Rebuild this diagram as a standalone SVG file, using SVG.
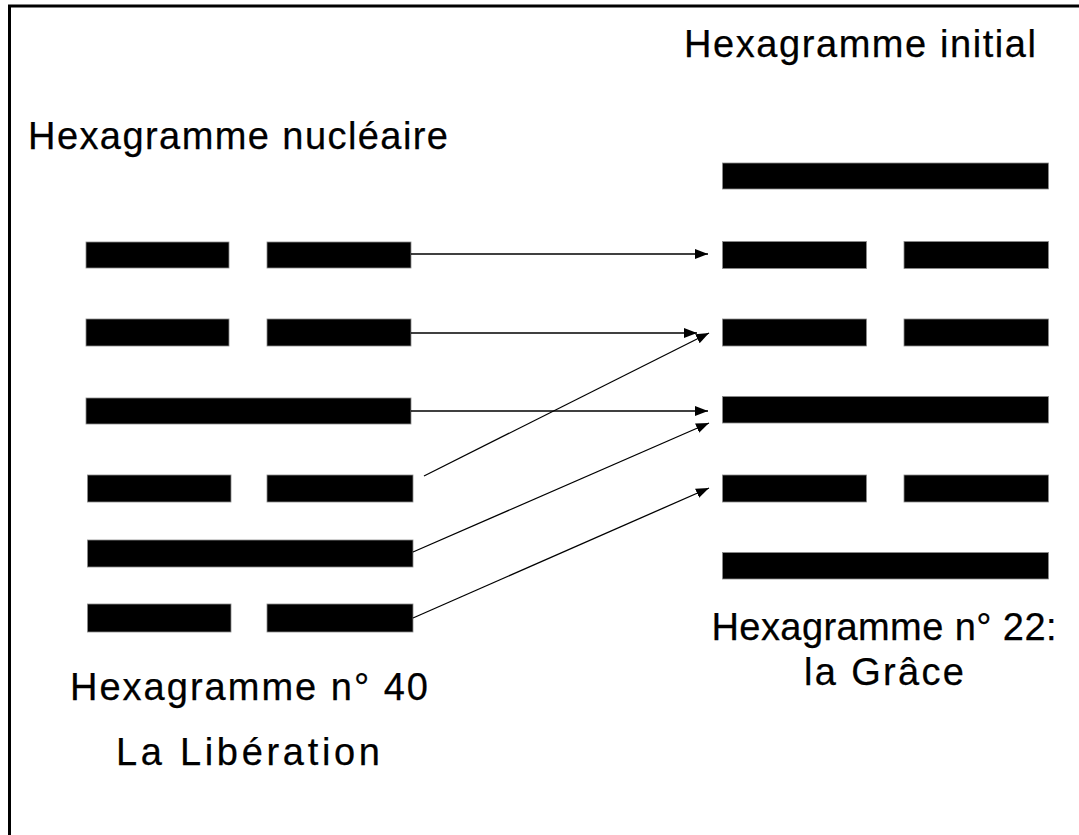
<svg xmlns="http://www.w3.org/2000/svg" width="1079" height="835" viewBox="0 0 1079 835">
<style>
.bar{fill:#000;stroke:#8a8a8a;stroke-width:0.8}
.lbl{font-family:"Liberation Sans",Arial,sans-serif;font-size:38px;fill:#000;stroke:#000;stroke-width:0.25}
.con{stroke:#000;stroke-width:1.3;fill:none}
</style>
<defs>
<marker id="ah" markerUnits="userSpaceOnUse" markerWidth="14" markerHeight="11" refX="13" refY="5" orient="auto">
<path d="M0,0 L13,5 L0,10 z" fill="#000"/>
</marker>
</defs>
<rect x="0" y="0" width="1079" height="835" fill="#fff"/>
<g id="frame">
<line x1="8" y1="6" x2="1079" y2="6" stroke="#000" stroke-width="3"/>
<line x1="9.5" y1="5" x2="9.5" y2="835" stroke="#000" stroke-width="3"/>
</g>
<g id="labels">
<text id="t-initial" class="lbl" x="684" y="57" textLength="352" lengthAdjust="spacing">Hexagramme initial</text>
<text id="t-nucleaire" class="lbl" x="28" y="149" textLength="420" lengthAdjust="spacing">Hexagramme nucléaire</text>
<text id="t-22" class="lbl" x="884" y="640" text-anchor="middle" textLength="345" lengthAdjust="spacing">Hexagramme n° 22:</text>
<text id="t-grace" class="lbl" x="884" y="685" text-anchor="middle" textLength="160" lengthAdjust="spacing">la Grâce</text>
<text id="t-40" class="lbl" x="249" y="700" text-anchor="middle" textLength="358" lengthAdjust="spacing">Hexagramme n° 40</text>
<text id="t-liberation" class="lbl" x="248" y="765" text-anchor="middle" textLength="264" lengthAdjust="spacing">La Libération</text>
</g>
<g id="hex-nucleaire">
<g id="n1"><rect class="bar" x="86" y="242" width="143" height="26"/><rect class="bar" x="267" y="242" width="144" height="26"/></g>
<g id="n2"><rect class="bar" x="86" y="319" width="143" height="27"/><rect class="bar" x="267" y="319" width="144" height="27"/></g>
<g id="n3"><rect class="bar" x="86" y="398" width="325" height="26"/></g>
<g id="n4"><rect class="bar" x="87.5" y="475" width="143.5" height="27"/><rect class="bar" x="267" y="475" width="146" height="27"/></g>
<g id="n5"><rect class="bar" x="87.5" y="540" width="325.5" height="27"/></g>
<g id="n6"><rect class="bar" x="87.5" y="604" width="143.5" height="28"/><rect class="bar" x="267" y="604" width="146" height="28"/></g>
</g>
<g id="hex-initial">
<g id="i1"><rect class="bar" x="722.5" y="163" width="326" height="26"/></g>
<g id="i2"><rect class="bar" x="722.5" y="241.5" width="144" height="27"/><rect class="bar" x="904" y="241.5" width="144.5" height="27"/></g>
<g id="i3"><rect class="bar" x="722.5" y="319" width="144" height="27"/><rect class="bar" x="904" y="319" width="144.5" height="27"/></g>
<g id="i4"><rect class="bar" x="722.5" y="396.5" width="326" height="26.5"/></g>
<g id="i5"><rect class="bar" x="722.5" y="475" width="144" height="27"/><rect class="bar" x="904" y="475" width="144.5" height="27"/></g>
<g id="i6"><rect class="bar" x="722.5" y="552.5" width="326" height="26.5"/></g>
</g>
<g id="connectors">
<line class="con" x1="411" y1="254" x2="708" y2="254" marker-end="url(#ah)"/>
<line class="con" x1="411" y1="333" x2="697" y2="333" marker-end="url(#ah)"/>
<line class="con" x1="411" y1="411" x2="708" y2="411" marker-end="url(#ah)"/>
<line class="con" x1="424" y1="476" x2="709" y2="333" marker-end="url(#ah)"/>
<line class="con" x1="413" y1="552" x2="709" y2="423" marker-end="url(#ah)"/>
<line class="con" x1="413" y1="618" x2="709" y2="488" marker-end="url(#ah)"/>
</g>
</svg>
